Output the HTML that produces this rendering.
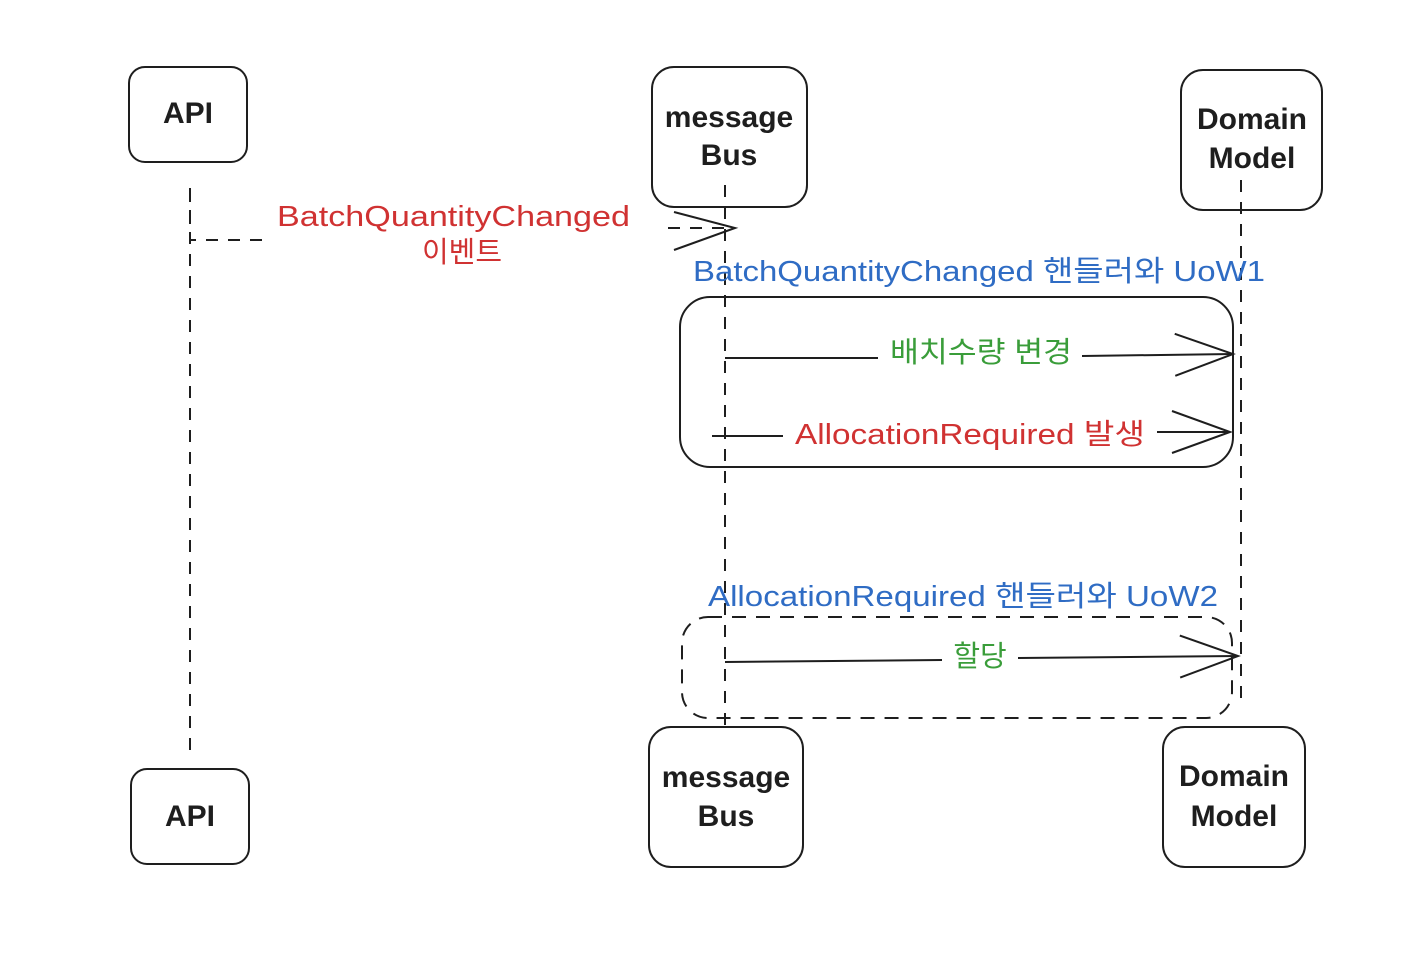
<!DOCTYPE html>
<html><head><meta charset="utf-8"><style>
html,body{margin:0;padding:0;background:#fff;}
svg text{font-family:"Liberation Sans","Noto Sans CJK KR",sans-serif;}
</style></head><body>
<svg width="1428" height="950" viewBox="0 0 1428 950" xmlns="http://www.w3.org/2000/svg">
<defs>
<marker id="ah" markerWidth="64" markerHeight="50" refX="60" refY="25" orient="auto" markerUnits="userSpaceOnUse">
<path d="M2,4 L60,25 L2,46" fill="none" stroke="#1e1e1e" stroke-width="2"/>
</marker>
</defs>
<g fill="none" stroke="#1e1e1e" stroke-width="2">
<line x1="190" y1="188" x2="190" y2="752" stroke-dasharray="12,10"/>
<line x1="725" y1="185" x2="725" y2="727" stroke-dasharray="12,10"/>
<line x1="1241" y1="180" x2="1241" y2="705" stroke-dasharray="12,10"/>
<rect x="129" y="67" width="118" height="95" rx="16"/>
<rect x="652" y="67" width="155" height="140" rx="22"/>
<rect x="1181" y="70" width="141" height="140" rx="22"/>
<rect x="131" y="769" width="118" height="95" rx="16"/>
<rect x="649" y="727" width="154" height="140" rx="22"/>
<rect x="1163" y="727" width="142" height="140" rx="22"/>
<path d="M190,190 L190,240 L270,240" stroke-dasharray="12,10"/>
<path d="M668,228 L733,228" stroke-dasharray="12,10"/>
<path d="M674,212 L735,228 L674,250"/>
<rect x="680" y="297" width="553" height="170" rx="30"/>
<line x1="725" y1="358" x2="878" y2="358"/>
<line x1="1082" y1="356" x2="1233" y2="354" marker-end="url(#ah)"/>
<line x1="712" y1="436" x2="783" y2="436"/>
<line x1="1157" y1="432" x2="1230" y2="432" marker-end="url(#ah)"/>
<rect x="682" y="617" width="550" height="101" rx="26" stroke-dasharray="14,10"/>
<line x1="725" y1="662" x2="942" y2="660"/>
<line x1="1018" y1="658" x2="1238" y2="656" marker-end="url(#ah)"/>
</g>
<g font-size="30" fill="#1e1e1e" text-anchor="middle" font-weight="bold">
<text x="188" y="123">API</text>
<text x="729" y="127">message</text>
<text x="729" y="165">Bus</text>
<text x="1252" y="129">Domain</text>
<text x="1252" y="168">Model</text>
<text x="190" y="826">API</text>
<text x="726" y="787">message</text>
<text x="726" y="826">Bus</text>
<text x="1234" y="786">Domain</text>
<text x="1234" y="826">Model</text>
</g>
<g font-size="29">
<text x="277" y="226" fill="#d03232" textLength="353" lengthAdjust="spacingAndGlyphs">BatchQuantityChanged</text>
<text x="462" y="262" fill="#d03232" text-anchor="middle">이벤트</text>
<text x="693" y="281" fill="#2f6cc4" textLength="572" lengthAdjust="spacingAndGlyphs">BatchQuantityChanged 핸들러와 UoW1</text>
<text x="890" y="362" fill="#3a9d3a" textLength="182" lengthAdjust="spacingAndGlyphs">배치수량 변경</text>
<text x="795" y="444" fill="#d03232" textLength="350" lengthAdjust="spacingAndGlyphs">AllocationRequired 발생</text>
<text x="708" y="606" fill="#2f6cc4" textLength="510" lengthAdjust="spacingAndGlyphs">AllocationRequired 핸들러와 UoW2</text>
<text x="980" y="666" fill="#3a9d3a" text-anchor="middle">할당</text>
</g>
</svg>
</body></html>
